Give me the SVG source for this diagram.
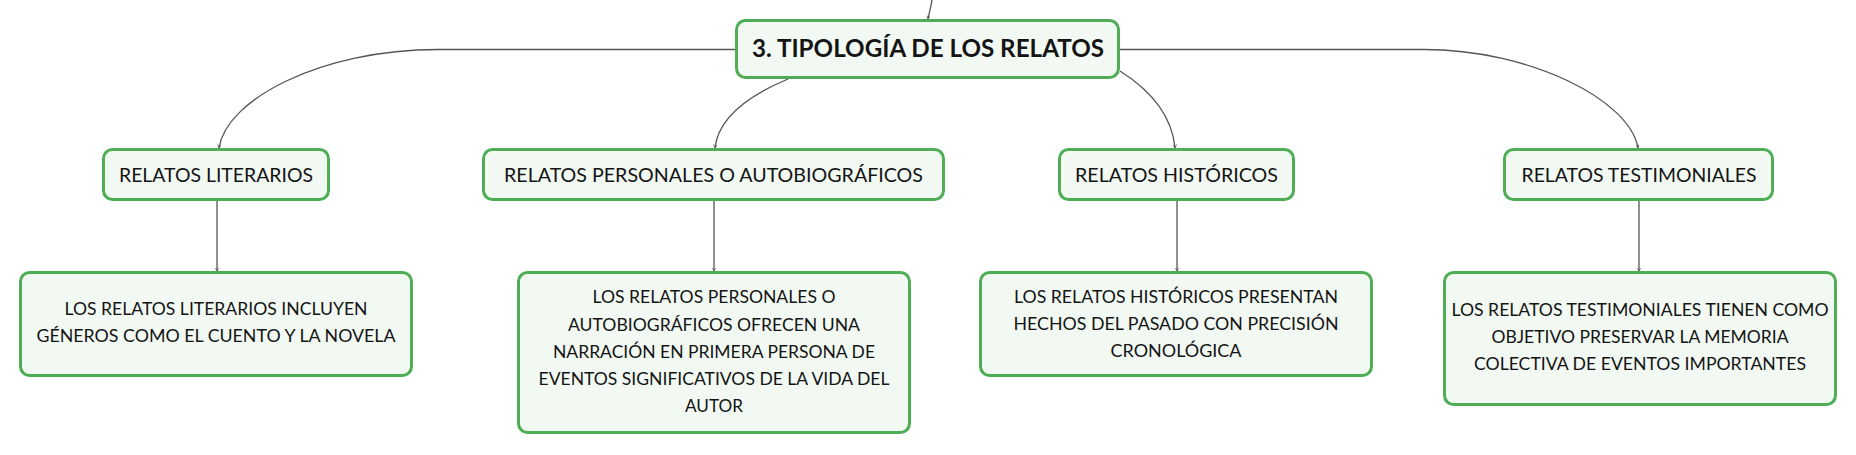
<svg xmlns="http://www.w3.org/2000/svg" width="1856" height="455" viewBox="0 0 1856 455">
<style>
.box{fill:#f2f9f3;stroke:#4fae55;stroke-width:3}
.t{font-family:Lato,"Noto Sans",sans-serif;fill:#141414;text-anchor:middle}
.title{font-size:24px;font-weight:bold}
.lab{font-size:19px}
.det{font-size:16.5px}
.c{fill:none;stroke:#555;stroke-width:1.3}
</style>
<defs>
<marker id="ah" viewBox="0 0 8 8" refX="7" refY="4" markerWidth="4" markerHeight="4" markerUnits="userSpaceOnUse" orient="auto">
<path d="M0,0.5 L7.5,4 L0,7.5" fill="none" stroke="#555" stroke-width="1.5"/>
</marker>
</defs>
<rect width="1856" height="455" fill="#ffffff"/>
<g id="connectors">
<path class="c" d="M932,0 C931,7 929,13 928,19" marker-end="url(#ah)"/>
<path class="c" d="M735,49.5 L438,49.5 C320,49.5 226,100 219,148" marker-end="url(#ah)"/>
<path class="c" d="M788,79 C745,97 718,120 715,148" marker-end="url(#ah)"/>
<path class="c" d="M1120,71 C1150,90 1172,115 1175,148" marker-end="url(#ah)"/>
<path class="c" d="M1120,49.5 L1424,49.5 C1530,49.5 1630,100 1638,148" marker-end="url(#ah)"/>
<path class="c" d="M217,201 L217,271" marker-end="url(#ah)"/>
<path class="c" d="M714,201 L714,271" marker-end="url(#ah)"/>
<path class="c" d="M1177,201 L1177,271" marker-end="url(#ah)"/>
<path class="c" d="M1639,201 L1639,271" marker-end="url(#ah)"/>
</g>
<g id="root">
<rect class="box" x="736.5" y="20.5" width="382" height="57" rx="9"/>
<text class="t title" x="928" y="57" textLength="352" lengthAdjust="spacingAndGlyphs">3. TIPOLOGÍA DE LOS RELATOS</text>
</g>
<g id="n-literarios">
<rect class="box" x="103.5" y="149.5" width="225" height="50" rx="9"/>
<text class="t lab" x="216" y="182" textLength="194" lengthAdjust="spacingAndGlyphs">RELATOS LITERARIOS</text>
</g>
<g id="n-personales">
<rect class="box" x="483.5" y="149.5" width="460" height="50" rx="9"/>
<text class="t lab" x="713.5" y="182" textLength="419" lengthAdjust="spacingAndGlyphs">RELATOS PERSONALES O AUTOBIOGRÁFICOS</text>
</g>
<g id="n-historicos">
<rect class="box" x="1059.5" y="149.5" width="234" height="50" rx="9"/>
<text class="t lab" x="1176.5" y="182" textLength="203" lengthAdjust="spacingAndGlyphs">RELATOS HISTÓRICOS</text>
</g>
<g id="n-testimoniales">
<rect class="box" x="1504.5" y="149.5" width="268" height="50" rx="9"/>
<text class="t lab" x="1639" y="182" textLength="235" lengthAdjust="spacingAndGlyphs">RELATOS TESTIMONIALES</text>
</g>
<g id="d-literarios">
<rect class="box" x="20.5" y="272.5" width="391" height="103" rx="9"/>
<text class="t det" x="216" y="315" textLength="303" lengthAdjust="spacingAndGlyphs">LOS RELATOS LITERARIOS INCLUYEN</text>
<text class="t det" x="216" y="342" textLength="359" lengthAdjust="spacingAndGlyphs">GÉNEROS COMO EL CUENTO Y LA NOVELA</text>
</g>
<g id="d-personales">
<rect class="box" x="518.5" y="272.5" width="391" height="160" rx="9"/>
<text class="t det" x="714" y="303" textLength="243" lengthAdjust="spacingAndGlyphs">LOS RELATOS PERSONALES O</text>
<text class="t det" x="714" y="330.5" textLength="292" lengthAdjust="spacingAndGlyphs">AUTOBIOGRÁFICOS OFRECEN UNA</text>
<text class="t det" x="714" y="358" textLength="322" lengthAdjust="spacingAndGlyphs">NARRACIÓN EN PRIMERA PERSONA DE</text>
<text class="t det" x="714" y="385" textLength="351" lengthAdjust="spacingAndGlyphs">EVENTOS SIGNIFICATIVOS DE LA VIDA DEL</text>
<text class="t det" x="714" y="412" textLength="58" lengthAdjust="spacingAndGlyphs">AUTOR</text>
</g>
<g id="d-historicos">
<rect class="box" x="980.5" y="272.5" width="391" height="103" rx="9"/>
<text class="t det" x="1176" y="303" textLength="324" lengthAdjust="spacingAndGlyphs">LOS RELATOS HISTÓRICOS PRESENTAN</text>
<text class="t det" x="1176" y="330" textLength="325" lengthAdjust="spacingAndGlyphs">HECHOS DEL PASADO CON PRECISIÓN</text>
<text class="t det" x="1176" y="357" textLength="131" lengthAdjust="spacingAndGlyphs">CRONOLÓGICA</text>
</g>
<g id="d-testimoniales">
<rect class="box" x="1444.5" y="272.5" width="391" height="132" rx="9"/>
<text class="t det" x="1640" y="316" textLength="377" lengthAdjust="spacingAndGlyphs">LOS RELATOS TESTIMONIALES TIENEN COMO</text>
<text class="t det" x="1640" y="343" textLength="297" lengthAdjust="spacingAndGlyphs">OBJETIVO PRESERVAR LA MEMORIA</text>
<text class="t det" x="1640" y="370" textLength="332" lengthAdjust="spacingAndGlyphs">COLECTIVA DE EVENTOS IMPORTANTES</text>
</g>
</svg>
